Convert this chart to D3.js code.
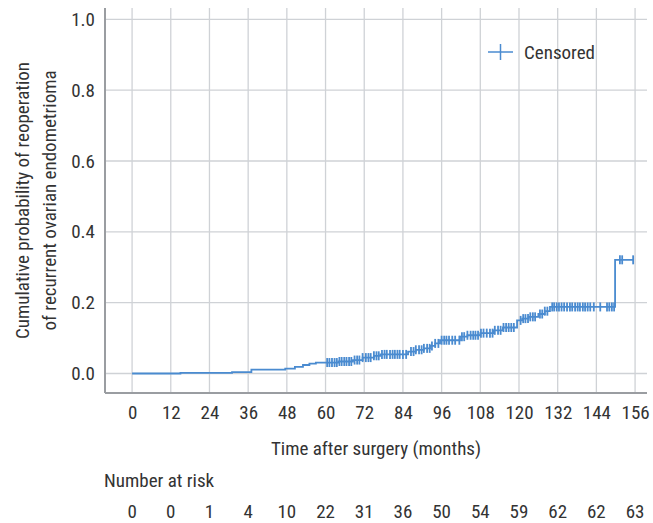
<!DOCTYPE html>
<html><head><meta charset="utf-8">
<script src="https://cdn.jsdelivr.net/npm/d3@7"></script>
<style>
body{margin:0;background:#fff;}
text{font-family:"Liberation Sans Narrow","Roboto Condensed","Roboto",sans-serif;fill:#333;}
</style></head><body>
<svg id="c" width="653" height="523"></svg>
<script>
// ---- data ----
const xTicks = [0,12,24,36,48,60,72,84,96,108,120,132,144,156];
const yTicks = [0.0,0.2,0.4,0.6,0.8,1.0];
const numberAtRisk = [0,0,1,4,10,22,31,36,50,54,59,62,62,63];
// step events: time (months) and cumulative probability after the step
const stepTimes = [0,15,31,37,47.5,50.5,53,55,57,64,68.5,71.5,75,77,85.6,88,90.5,92.4,94,95.5,101.7,104,108,112,115,119.4,121,123,126,128,129.6,149.8];
const stepValues = [0,0.002,0.004,0.011,0.014,0.019,0.024,0.028,0.031,0.034,0.038,0.045,0.050,0.054,0.062,0.067,0.071,0.078,0.085,0.094,0.104,0.108,0.114,0.122,0.130,0.150,0.155,0.160,0.168,0.176,0.188,0.321];
const endTime = 155.6;
const censorTimes = [60.5,61.2,62,62.8,63.5,64.3,65,65.8,66.5,67.3,68,69,69.8,70.5,71.5,72.5,73.3,74,75,75.8,76.5,77.5,78.3,79,80,80.8,81.5,82.3,83,84,85,86.5,87.3,88,89,89.8,90.5,91.5,92.3,93,94,95,96,96.8,97.5,98.3,99.3,100.2,101.5,102.3,103,104,105,105.8,106.5,107.3,108.2,109,110,111,111.8,112.5,113.5,114.3,115.2,116,116.8,117.6,118.4,120.5,121.3,122,122.8,123.5,124.3,125,126.5,127.2,128,128.8,130.3,130.9,131.7,132.4,133.2,134.0,134.9,135.8,136.5,137.4,138.2,138.9,139.8,140.5,141.3,142.1,143.2,145.2,147.3,148.0,148.8,149.5,151.3,152.0,155.4];
const legendLabel = "Censored";
const xTitle = "Time after surgery (months)";
const yTitle = ["Cumulative probability of reoperation","of recurrent ovarian endometrioma"];
const riskTitle = "Number at risk";

// ---- chart ----
const svg = d3.select("#c");
const pL=105, pR=647, pT=8, pB=393;
const x = d3.scaleLinear().domain([-8.4,159.7]).range([pL,pR]);
const y = d3.scaleLinear().domain([-0.055,1.032]).range([pB,pT]);
const lineColor = "#4a8bd0";
const FONT = '"Liberation Sans Narrow","Roboto Condensed",Roboto,sans-serif';

// grid
const g = svg.append("g");
g.selectAll(".vg").data(xTicks).join("line")
  .attr("x1",d=>x(d)).attr("x2",d=>x(d)).attr("y1",pT).attr("y2",pB)
  .attr("stroke","#cfd2d6").attr("stroke-width",1.3);
g.selectAll(".hg").data(yTicks).join("line")
  .attr("x1",pL).attr("x2",pR).attr("y1",d=>y(d)).attr("y2",d=>y(d))
  .attr("stroke","#cfd2d6").attr("stroke-width",1.3);

// axes
const xAxis = d3.axisBottom(x).tickValues(xTicks).tickSize(0).tickPadding(13).tickFormat(d3.format("d"));
const yAxis = d3.axisLeft(y).tickValues(yTicks).tickSize(0).tickPadding(10).tickFormat(d3.format(".1f"));
const gx = svg.append("g").attr("transform",`translate(0,${pB})`).call(xAxis);
const gy = svg.append("g").attr("transform",`translate(${pL},0)`).call(yAxis);
[gx,gy].forEach(a=>{
  a.select(".domain").attr("stroke","#9a9da1").attr("stroke-width",2);
  a.selectAll("text").attr("font-size",19).attr("fill","#333").style("font-family",FONT);
});
gx.select(".domain").attr("d",`M${pL},0H${pR}`);
gy.select(".domain").attr("d",`M0,${pT}V${pB}`);

// titles
svg.append("text").attr("x",(pL+pR)/2).attr("y",455).attr("text-anchor","middle")
  .attr("font-size",19).text(xTitle);
const yt = svg.append("text").attr("transform",`translate(29,${(pT+pB)/2}) rotate(-90)`)
  .attr("text-anchor","middle").attr("font-size",19).attr("fill","#3a3a3a");
yt.selectAll("tspan").data(yTitle).join("tspan").attr("x",0).attr("dy",(d,i)=>i?27:0).text(d=>d);

// number at risk
svg.append("text").attr("x",104).attr("y",487).attr("font-size",19).text(riskTitle);
svg.selectAll(".nar").data(numberAtRisk).join("text")
  .attr("x",(d,i)=>x(xTicks[i])).attr("y",517.5).attr("text-anchor","middle")
  .attr("font-size",19).text(d=>d);

// step curve
const pts = stepTimes.map((t,i)=>[t,stepValues[i]]);
pts.push([endTime, stepValues[stepValues.length-1]]);
const line = d3.line().x(d=>x(d[0])).y(d=>y(d[1])).curve(d3.curveStepAfter);
svg.append("path").attr("d",line(pts)).attr("fill","none").attr("stroke",lineColor).attr("stroke-width",1.8);

// censor marks
const valAt = t => stepValues[d3.bisectRight(stepTimes,t)-1];
svg.selectAll(".cen").data(censorTimes).join("line")
  .attr("x1",d=>x(d)).attr("x2",d=>x(d))
  .attr("y1",d=>y(valAt(d))-4.5).attr("y2",d=>y(valAt(d))+4.5)
  .attr("stroke",lineColor).attr("stroke-width",1.8);

// legend
const lg = svg.append("g");
lg.append("line").attr("x1",488).attr("x2",513).attr("y1",52).attr("y2",52).attr("stroke",lineColor).attr("stroke-width",1.5);
lg.append("line").attr("x1",500.5).attr("x2",500.5).attr("y1",44).attr("y2",60).attr("stroke",lineColor).attr("stroke-width",1.5);
lg.append("text").attr("x",524).attr("y",59).attr("font-size",19).text(legendLabel);
</script></body></html>
